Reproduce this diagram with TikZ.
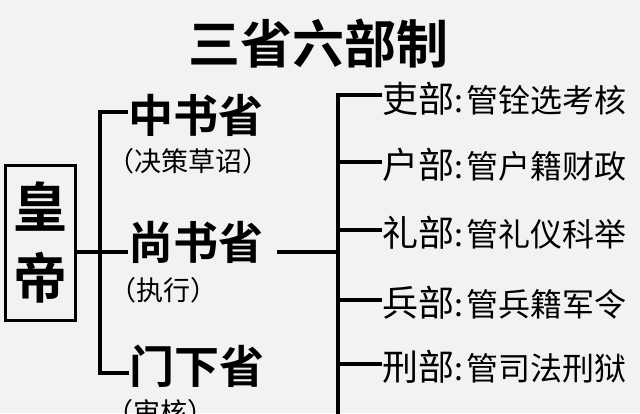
\documentclass[tikz,border=0pt]{standalone}
\usepackage{fontspec}
\newfontfamily\cjk[BoldFont={* Bold}]{Noto Sans CJK SC}
\definecolor{bgc}{HTML}{F2F2F2}
\newcommand\deptxt[2]{{\fontsize{36}{36}\selectfont #1}{\fontsize{32}{32}\selectfont :\hspace{3pt}#2}}
\begin{document}
\begin{tikzpicture}[x=1pt,y=-1pt,
  conn/.style={line width=3.6pt, line join=miter, line cap=butt},
  titletxt/.style={font=\cjk\bfseries\fontsize{52}{52}\selectfont, inner sep=0pt},
  embox/.style={draw, line width=3pt, minimum width=70pt, minimum height=155pt, inner sep=0pt, align=center, font=\cjk\bfseries\fontsize{54}{71}\selectfont},
  prov/.style={font=\cjk\bfseries\fontsize{45}{45}\selectfont, inner sep=0pt, anchor=west},
  note/.style={font=\cjk\fontsize{27}{27}\selectfont, inner sep=0pt},
  dept/.style={font=\cjk, inner sep=0pt, anchor=west}]
\fill[bgc] (0,0) rectangle (640,413);
\useasboundingbox (0,0) rectangle (640,413);
\node[titletxt] (t) at (318,44) {三省六部制};
\node[embox] (emp) at (40,242.5) {皇\\帝};
\node[prov] (zs) at (128,115) {中书省};
\node[note] (zsn) at (188,161) {（决策草诏）};
\node[prov] (ss) at (128,242) {尚书省};
\node[note] (ssn) at (163.5,290) {（执行）};
\node[prov] (mx) at (129,366) {门下省};
\node[note] (mxn) at (160,412) {（审核）};
\coordinate (lj) at (100,252);
\coordinate (ltop) at (100,112);
\coordinate (lbot) at (100,373);
\draw[conn] (emp.east |- lj) -- (ss.west |- lj);
\draw[conn] (zs.west |- ltop) -- (ltop) -- (lbot) -- (mx.west |- lbot);
\node[dept] (d1) at (382,99) {\deptxt{吏部}{管铨选考核}};
\node[dept] (d2) at (382,165) {\deptxt{户部}{管户籍财政}};
\node[dept] (d3) at (382,233) {\deptxt{礼部}{管礼仪科举}};
\node[dept] (d4) at (382,303) {\deptxt{兵部}{管兵籍军令}};
\node[dept] (d5) at (382,367) {\deptxt{刑部}{管司法刑狱}};
\coordinate (rj) at (338,252);
\coordinate (rtop) at (338,95);
\coordinate (rbot) at (338,416);
\draw[conn] ([xshift=14pt]ss.east |- rj) -- (rj);
\draw[conn] (d1.west |- rtop) -- (rtop) -- (rbot);
\draw[conn] (rj |- 0,162) -- (d2.west |- 0,162);
\draw[conn] (rj |- 0,230) -- (d3.west |- 0,230);
\draw[conn] (rj |- 0,300) -- (d4.west |- 0,300);
\draw[conn] (rj |- 0,364) -- (d5.west |- 0,364);
\end{tikzpicture}
\end{document}
